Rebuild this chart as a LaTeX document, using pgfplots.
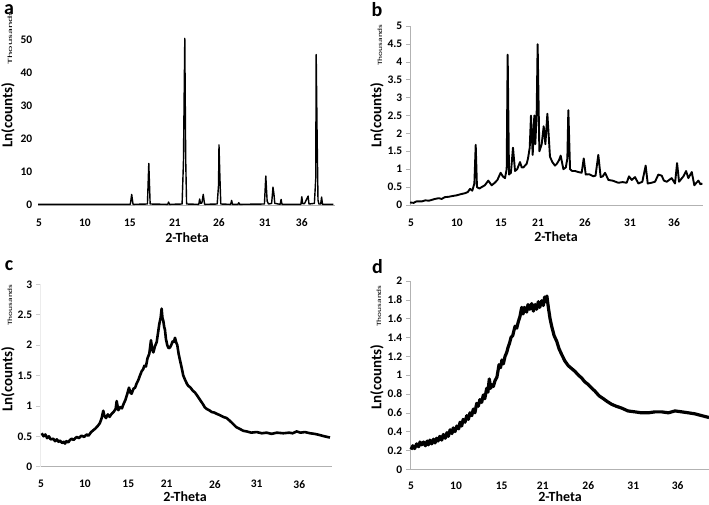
\documentclass[border=0pt]{standalone}
\usepackage{pgfplots}
\pgfplotsset{compat=1.18}
\usepackage{fontspec}
\setmainfont{Carlito}
\pgfplotsset{panel/.style={
  scale only axis, ymin=0, clip=false,
  axis x line*=bottom, axis y line*=left,
  axis line style={draw=gray!60, line width=0.8pt, -},
  tick align=outside, major tick length=4pt,
  xtick style={draw=none}, ytick style={draw=gray!60, line width=0.6pt},
  ticklabel style={font=\fontsize{11.5}{13}\selectfont\bfseries, inner sep=1pt},
  /pgf/number format/assume math mode=true,
  xticklabel style={anchor=center, yshift=-13.5pt}, yticklabel style={anchor=east, xshift=-2.5pt},
  every axis plot/.append style={black, line join=round, mark=none},
}}
\newcommand{\Lab}[1]{{\fontsize{15}{16}\selectfont\bfseries #1}}
\newcommand{\Xlab}[1]{{\fontsize{14}{15}\selectfont\bfseries #1}}
\newcommand{\Thou}{\scalebox{1.45}[1]{\fontsize{6.5}{7}\selectfont Thousands}}
\begin{document}
\begin{tikzpicture}
\useasboundingbox (0,0) rectangle (709pt,504pt);
% ---------- a ----------
\begin{axis}[panel, at={(38pt,299pt)}, anchor=south west, width=297pt, height=181.5pt,
  xmin=4.89, xmax=37.89, ymax=55, ytick={0,10,20,30,40,50},
  xtick={5,10.1,15.1,20.1,25,30.1,34.2}, xticklabels={5,10,15,21,26,31,36},
  y axis line style={draw=none}, ytick style={draw=none},
  yticklabel style={xshift=2pt}]
\addplot[line width=1.4pt] coordinates {
(4.9,0.2) (15.15,0.2) (15.3,3.2) (15.45,0.2)
(17.05,0.3) (17.2,12.6) (17.35,0.3)
(19.3,0.2) (19.4,0.9) (19.5,0.2)
(20.9,0.3) (21.05,13) (21.2,50.5) (21.3,14) (21.4,0.3)
(22.75,0.2) (22.85,1.8) (22.95,0.5) (23.1,0.6) (23.25,3.2) (23.4,0.2)
(24.8,0.3) (24.95,6) (25.0,18.2) (25.1,8.6) (25.2,0.3)
(26.3,0.2) (26.4,1.4) (26.5,0.2)
(27.1,0.2) (27.2,0.7) (27.3,0.2)
(30.05,0.3) (30.2,8.8) (30.35,1.2) (30.5,0.3)
(30.85,0.5) (31.0,5.4) (31.1,3.5) (31.2,0.5)
(31.8,0.2) (31.9,1.7) (32.0,0.2)
(34.1,0.2) (34.2,2.5) (34.3,0.4) (34.5,0.4) (34.9,2.7) (35.0,0.3)
(35.6,0.5) (35.75,8) (35.8,45.6) (35.9,21.7) (36.0,1.5) (36.1,0.3)
(36.3,0.3) (36.4,2.4) (36.5,0.2)
(37.7,0.2)};
\end{axis}
% ---------- b ----------
\begin{axis}[panel, at={(410pt,299pt)}, anchor=south west, width=293pt, height=179pt,
  xmin=4.89, xmax=37.44, ymax=5, ytick={0,0.5,1,1.5,2,2.5,3,3.5,4,4.5,5},
  xtick={5,10.11,15,19.11,24.33,29.33,34.22}, xticklabels={5,10,15,21,26,31,36}]
\addplot[line width=1.9pt] coordinates {
(4.89,0.07) (5.3,0.06) (5.6,0.1) (6.19,0.1) (6.6,0.13) (7.0,0.12) (7.67,0.17) (8.1,0.19) (8.4,0.17)
(8.78,0.22) (9.2,0.23) (9.6,0.25) (10.07,0.27) (10.5,0.3) (11.0,0.33) (11.3,0.36) (11.56,0.45)
(11.81,0.4) (12.04,0.6) (12.19,1.68) (12.33,0.5) (12.6,0.46) (12.85,0.5) (13.2,0.55) (13.59,0.68)
(13.96,0.55) (14.3,0.62) (14.6,0.7) (14.96,0.9) (15.2,0.8) (15.44,0.75) (15.63,1.0) (15.74,4.2)
(15.89,0.85) (16.1,0.9) (16.33,1.6) (16.56,0.95) (16.8,1.0) (17.11,1.2) (17.3,1.05) (17.48,1.05)
(17.85,1.15) (18.0,1.3) (18.19,1.6) (18.33,2.5) (18.52,1.4) (18.7,2.5) (18.81,1.7) (18.96,2.55)
(19.07,4.49) (19.26,1.5) (19.52,1.7) (19.74,2.2) (19.93,1.7) (20.15,2.55) (20.44,1.35) (20.7,1.2)
(21.0,1.1) (21.2,1.15) (21.44,1.25) (21.63,1.38) (21.93,1.0) (22.2,1.05) (22.37,1.3) (22.48,2.65)
(22.67,1.0) (22.9,0.95) (23.22,0.95) (23.6,0.92) (23.96,0.9) (24.19,1.3) (24.41,0.85) (24.8,0.86)
(25.26,0.8) (25.5,0.82) (25.81,1.4) (26.07,0.78) (26.3,0.8) (26.56,0.9) (26.93,0.7) (27.4,0.68)
(28.04,0.62) (28.5,0.64) (28.96,0.62) (29.22,0.8) (29.52,0.7) (29.89,0.78) (30.26,0.6) (30.7,0.65)
(31.07,1.1) (31.3,0.6) (31.7,0.62) (32.11,0.65) (32.48,0.85) (32.85,0.82) (33.1,0.68) (33.41,0.65)
(33.96,0.75) (34.33,0.6) (34.56,1.17) (34.78,0.65) (35.26,0.8) (35.56,0.95) (35.81,0.75) (36.19,0.92)
(36.48,0.55) (36.7,0.62) (36.93,0.68) (37.15,0.58) (37.37,0.6)};
\end{axis}
% ---------- c ----------
\begin{axis}[panel, at={(40pt,37.3pt)}, anchor=south west, width=292pt, height=182.4pt,
  xmin=4.89, xmax=38.07, ymax=3, ytick={0,0.5,1,1.5,2,2.5,3},
  xtick={5,10,14.92,19.28,24.77,29.51,34.35}, xticklabels={5,10,15,21,26,31,36},
  y axis line style={draw=gray!15}, ytick style={draw=gray!40}]
\addplot[line width=2.6pt] coordinates {
(5.08,0.55) (5.3,0.5) (5.5,0.53) (5.7,0.47) (5.9,0.5) (6.1,0.45) (6.4,0.46) (6.6,0.42) (6.8,0.45)
(7.0,0.41) (7.16,0.43) (7.4,0.39) (7.6,0.41) (7.73,0.38) (7.9,0.42) (8.1,0.40) (8.3,0.44) (8.5,0.46)
(8.7,0.44) (9.06,0.49) (9.3,0.47) (9.6,0.51) (9.9,0.49) (10.19,0.53) (10.4,0.51) (10.7,0.57)
(10.95,0.6) (11.2,0.63) (11.51,0.68) (11.7,0.72) (11.9,0.8) (12.08,0.92) (12.2,0.84) (12.39,0.8)
(12.6,0.86) (12.8,0.82) (13.03,0.87) (13.25,0.9) (13.49,0.95) (13.6,1.08) (13.79,0.93) (14.0,0.98)
(14.2,0.96) (14.35,1.02) (14.6,1.1) (14.81,1.2) (15.0,1.3) (15.15,1.22) (15.3,1.2) (15.5,1.28)
(15.7,1.3) (15.87,1.37) (16.05,1.42) (16.25,1.5) (16.44,1.57) (16.6,1.6) (16.75,1.66) (16.93,1.65)
(17.1,1.78) (17.31,1.86) (17.5,2.08) (17.65,1.92) (17.77,1.88) (17.95,1.98) (18.15,2.05) (18.3,2.2)
(18.45,2.35) (18.6,2.45) (18.71,2.6) (18.8,2.45) (18.9,2.4) (19.0,2.3) (19.09,2.25) (19.2,2.1)
(19.35,2.0) (19.5,1.95) (19.66,1.96) (19.8,2.0) (19.96,2.06) (20.1,2.05) (20.23,2.12) (20.35,2.05)
(20.49,2.0) (20.65,1.85) (20.8,1.75) (21.0,1.62) (21.17,1.5) (21.4,1.42) (21.6,1.36) (21.74,1.33)
(22.0,1.3) (22.25,1.25) (22.5,1.22) (22.75,1.17) (23.07,1.1) (23.4,1.03) (23.6,0.98) (23.83,0.95)
(24.1,0.93) (24.4,0.9) (24.7,0.89) (24.97,0.87) (25.3,0.85) (25.7,0.82) (26.1,0.8) (26.5,0.75)
(26.85,0.7) (27.2,0.65) (27.61,0.62) (28.0,0.59) (28.38,0.58) (28.9,0.56) (29.51,0.57) (30.1,0.55)
(30.65,0.56) (31.2,0.54) (31.8,0.56) (32.53,0.55) (33.2,0.56) (33.6,0.55) (34.05,0.58) (34.5,0.56)
(35.0,0.57) (35.57,0.55) (36.1,0.54) (36.7,0.52) (37.2,0.5) (37.84,0.48)};
\end{axis}
% ---------- d ----------
\begin{axis}[panel, at={(410pt,34.7pt)}, anchor=south west, width=299pt, height=188.3pt,
  xmin=4.89, xmax=38.11, ymax=2, ytick={0,0.2,0.4,0.6,0.8,1,1.2,1.4,1.6,1.8,2},
  xtick={5,10,15.08,19.64,24.7,29.7,34.63}, xticklabels={5,10,15,21,26,31,36},
  xticklabel style={yshift=1pt}]
\addplot[line width=3.2pt] coordinates {
(5.0,0.21) (5.2,0.25) (5.4,0.22) (5.63,0.27) (5.85,0.24) (6.0,0.29) (6.19,0.26) (6.4,0.29) (6.6,0.25)
(6.8,0.3) (6.93,0.26) (7.1,0.31) (7.3,0.27) (7.5,0.32) (7.67,0.28) (7.85,0.33) (8.0,0.3) (8.2,0.35)
(8.41,0.31) (8.6,0.37) (8.8,0.33) (9.0,0.39) (9.15,0.35) (9.35,0.42) (9.55,0.38) (9.7,0.44) (9.89,0.4)
(10.1,0.46) (10.3,0.43) (10.45,0.5) (10.63,0.46) (10.8,0.53) (11.0,0.5) (11.2,0.57) (11.37,0.53)
(11.55,0.6) (11.75,0.57) (11.93,0.64) (12.1,0.6) (12.3,0.7) (12.48,0.67) (12.65,0.74) (12.85,0.71)
(13.04,0.79) (13.2,0.75) (13.41,0.86) (13.55,0.82) (13.7,0.96) (13.85,0.86) (13.96,0.9) (14.15,0.88)
(14.33,0.94) (14.55,0.98) (14.78,1.11) (14.95,1.08) (15.1,1.16) (15.26,1.12) (15.45,1.2) (15.63,1.24)
(15.8,1.3) (15.95,1.34) (16.11,1.4) (16.3,1.42) (16.56,1.52) (16.75,1.5) (16.93,1.57) (17.1,1.62)
(17.3,1.72) (17.45,1.65) (17.6,1.72) (17.85,1.67) (18.0,1.75) (18.2,1.7) (18.41,1.76) (18.6,1.68)
(18.8,1.75) (18.96,1.7) (19.15,1.78) (19.3,1.72) (19.52,1.79) (19.7,1.74) (19.85,1.83) (19.96,1.78)
(20.1,1.84) (20.26,1.72) (20.45,1.6) (20.63,1.52) (20.9,1.42) (21.19,1.36) (21.45,1.28) (21.74,1.22)
(22.1,1.15) (22.48,1.1) (22.85,1.07) (23.22,1.04) (23.6,1.0) (23.96,0.97) (24.3,0.93) (24.7,0.9)
(25.1,0.86) (25.44,0.83) (25.9,0.78) (26.37,0.75) (26.8,0.72) (27.3,0.69) (27.8,0.67) (28.41,0.65)
(29.1,0.62) (29.89,0.61) (30.6,0.6) (31.37,0.6) (32.1,0.61) (32.85,0.61) (33.6,0.6) (34.33,0.62)
(35.1,0.61) (35.81,0.6) (36.5,0.59) (37.3,0.57) (38.11,0.55)};
\end{axis}
% ---------- texts ----------
\node[font=\fontsize{20}{22}\selectfont\bfseries, inner sep=0pt] at (9pt,494pt) {a};
\node[font=\fontsize{20}{22}\selectfont\bfseries, inner sep=0pt] at (377pt,494pt) {b};
\node[font=\fontsize{20}{22}\selectfont\bfseries, inner sep=0pt] at (9pt,238pt) {c};
\node[font=\fontsize{20}{22}\selectfont\bfseries, inner sep=0pt] at (377.5pt,237pt) {d};
\node[rotate=90] at (10pt,466pt) {\scalebox{1.3}[1]{\Thou}};
\node[rotate=90] at (380pt,459pt) {\Thou};
\node[rotate=90] at (10pt,199pt) {\Thou};
\node[rotate=90] at (379pt,198pt) {\Thou};
\node[rotate=90, inner sep=0pt] at (8pt,389pt) {\Lab{Ln(counts)}};
\node[rotate=90, inner sep=0pt] at (377pt,389pt) {\Lab{Ln(counts)}};
\node[rotate=90, inner sep=0pt] at (8pt,125pt) {\Lab{Ln(counts)}};
\node[rotate=90, inner sep=0pt] at (377pt,127pt) {\Lab{Ln(counts)}};
\node[inner sep=0pt] at (187pt,266pt) {\Xlab{2-Theta}};
\node[inner sep=0pt] at (556pt,267pt) {\Xlab{2-Theta}};
\node[inner sep=0pt] at (185pt,7pt) {\Xlab{2-Theta}};
\node[inner sep=0pt] at (560pt,7pt) {\Xlab{2-Theta}};
\end{tikzpicture}
\end{document}
